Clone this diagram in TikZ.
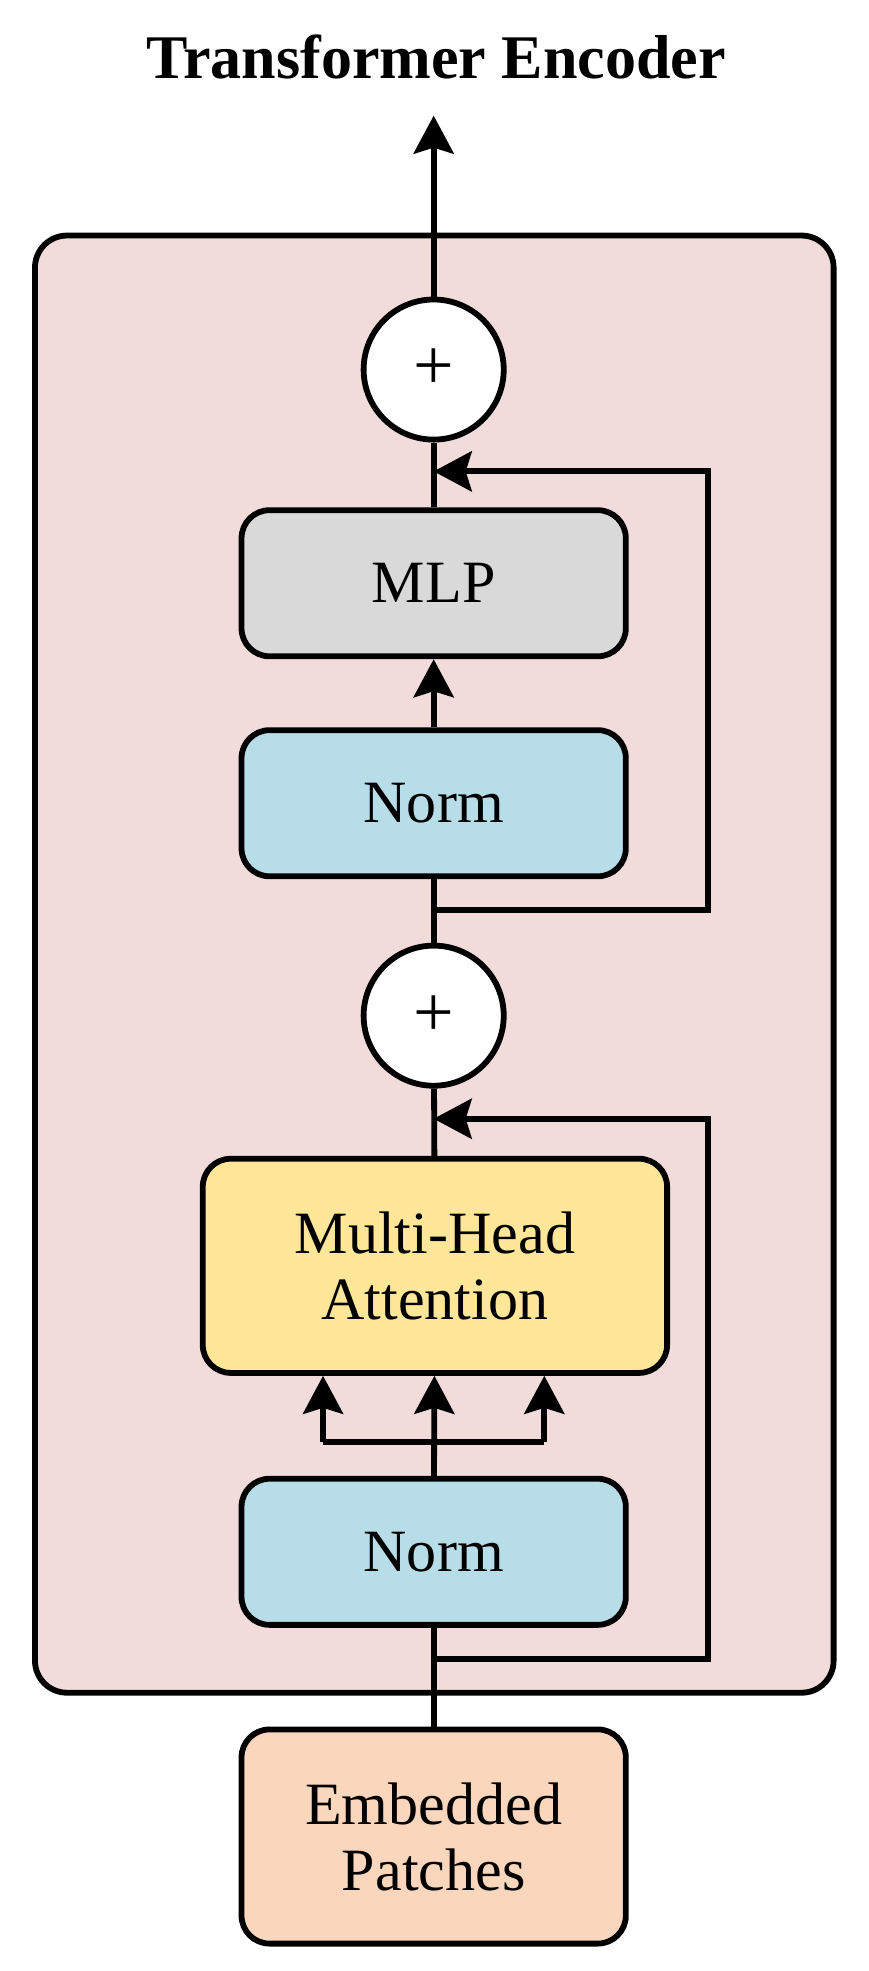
\documentclass[tikz,border=0pt]{standalone}
\usepackage{fontspec}
\setmainfont{Liberation Serif}
\usetikzlibrary{arrows.meta,positioning}
\definecolor{encpink}{RGB}{242,220,219}
\definecolor{mlpgray}{RGB}{217,217,217}
\definecolor{normblue}{RGB}{183,222,232}
\definecolor{attyellow}{RGB}{255,230,153}
\definecolor{embpeach}{RGB}{250,215,188}
\begin{document}
\begin{tikzpicture}[x=0.628pt, y=-0.628pt,
	every node/.style={font=\fontsize{30}{33}\selectfont},
	blk/.style={draw, line width=2.9pt, rounded corners=14pt, align=center,
		minimum width=192pt, minimum height=73pt},
	addnode/.style={draw, circle, fill=white, line width=2.9pt, minimum size=70pt, inner sep=0pt,
		font=\fontsize{36}{36}\selectfont},
	arr/.style={-{Stealth[length=19pt, width=20pt, inset=3pt]}},
	line width=2.9pt]
	\useasboundingbox (0,0) rectangle (691,1568);
	% encoder block
	\node [draw, fill=encpink, line width=2.9pt, rounded corners=16pt,
		minimum width=399pt, minimum height=728pt] (enc) at (345.5,767) {};
	\node [font=\fontsize{31}{34}\selectfont\bfseries] (title) at (347,45) {Transformer Encoder};
	\node [addnode] (add2) at (345,294) {+};
	\node [blk, fill=mlpgray] (mlp) at (345,464) {MLP};
	\node [blk, fill=normblue] (norm2) at (345,639) {Norm};
	\node [addnode] (add1) at (345,808) {+};
	\node [blk, fill=attyellow, minimum width=232pt, minimum height=107pt] (mha) at (346,1007) {Multi-Head\\Attention};
	\node [blk, fill=normblue] (norm1) at (345,1234.5) {Norm};
	\node [blk, fill=embpeach, minimum height=107pt] (emb) at (345,1461) {Embedded\\Patches};
	% free ends and junctions
	\coordinate (out) at (345,92);
	\coordinate (s2) at (345,724);
	\coordinate (r2) at (563,724);
	\coordinate (j2) at (345,375);
	\coordinate (s1) at (345,1320);
	\coordinate (r1) at (563,1320);
	\coordinate (j1) at (345,890);
	\coordinate (fl) at (257,1147);
	\coordinate (fr) at (433,1147);
	% main path
	\draw [arr] (add2) -- (out);
	\draw (mlp) -- (add2);
	\draw [arr] (norm2) -- (mlp);
	\draw (add1) -- (norm2);
	\draw (mha) -- (add1);
	\draw [arr] (norm1) -- (mha);
	\draw (emb) -- (norm1);
	% residual connections
	\draw [arr] (s2) -- (r2) |- (j2);
	\draw [arr] (s1) -- (r1) |- (j1);
	% q, k, v
	\draw (fl) -- (fr);
	\draw [arr] (fl) -- (fl |- mha.south);
	\draw [arr] (fr) -- (fr |- mha.south);
\end{tikzpicture}
\end{document}
